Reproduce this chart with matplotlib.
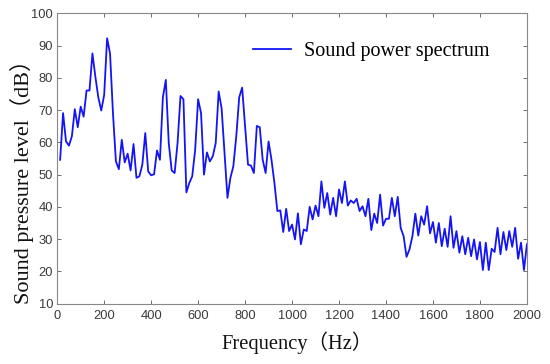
import matplotlib
matplotlib.use("Agg")
import matplotlib.pyplot as plt

freq_hz = [
    12.5, 25, 37.5, 50, 62.5, 75, 87.5, 100, 112.5, 125, 137.5, 150, 162.5, 175, 187.5, 200,
    212.5, 225, 237.5, 250, 262.5, 275, 287.5, 300, 312.5, 325, 337.5, 350, 362.5, 375, 387.5, 400,
    412.5, 425, 437.5, 450, 462.5, 475, 487.5, 500, 512.5, 525, 537.5, 550, 562.5, 575, 587.5, 600,
    612.5, 625, 637.5, 650, 662.5, 675, 687.5, 700, 712.5, 725, 737.5, 750, 762.5, 775, 787.5, 800,
    812.5, 825, 837.5, 850, 862.5, 875, 887.5, 900, 912.5, 925, 937.5, 950, 962.5, 975, 987.5, 1000,
    1012.5, 1025, 1037.5, 1050, 1062.5, 1075, 1087.5, 1100, 1112.5, 1125, 1137.5, 1150, 1162.5, 1175, 1187.5, 1200,
    1212.5, 1225, 1237.5, 1250, 1262.5, 1275, 1287.5, 1300, 1312.5, 1325, 1337.5, 1350, 1362.5, 1375, 1387.5, 1400,
    1412.5, 1425, 1437.5, 1450, 1462.5, 1475, 1487.5, 1500, 1512.5, 1525, 1537.5, 1550, 1562.5, 1575, 1587.5, 1600,
    1612.5, 1625, 1637.5, 1650, 1662.5, 1675, 1687.5, 1700, 1712.5, 1725, 1737.5, 1750, 1762.5, 1775, 1787.5, 1800,
    1812.5, 1825, 1837.5, 1850, 1862.5, 1875, 1887.5, 1900, 1912.5, 1925, 1937.5, 1950, 1962.5, 1975, 1987.5, 2000,
]

spl_db = [
    54.6, 69.1, 60.3, 59.0, 61.9, 70.3, 64.7, 71.1, 68.0, 76.1, 76.1, 87.6, 80.4, 74.0, 69.9, 74.7,
    92.3, 87.6, 69.0, 54.1, 51.7, 60.8, 53.8, 56.5, 51.3, 59.5, 49.0, 49.5, 53.1, 62.9, 51.0, 49.8,
    50.1, 57.5, 54.6, 74.0, 79.4, 59.8, 51.3, 50.5, 59.8, 74.4, 73.4, 44.5, 47.4, 49.5, 57.7, 73.4,
    69.1, 50.0, 56.9, 54.1, 55.7, 59.8, 75.8, 70.6, 56.7, 42.8, 49.0, 52.6, 61.9, 74.0, 77.0, 64.9,
    53.1, 52.8, 50.5, 65.1, 64.7, 54.6, 50.5, 60.3, 54.6, 47.4, 38.7, 38.9, 32.2, 39.4, 32.5, 34.5,
    29.9, 38.0, 28.4, 33.0, 32.5, 40.0, 36.1, 40.4, 37.1, 47.9, 39.7, 44.3, 37.6, 42.8, 37.1, 45.4,
    41.2, 47.9, 40.4, 42.0, 41.2, 42.5, 38.7, 40.2, 37.1, 42.5, 32.8, 37.9, 35.0, 43.8, 34.2, 36.3,
    36.3, 42.8, 37.1, 43.1, 33.5, 30.9, 24.5, 26.8, 30.9, 37.9, 31.1, 37.1, 34.5, 40.2, 31.8, 35.3,
    28.9, 35.0, 27.8, 33.2, 27.6, 37.1, 27.3, 32.5, 25.8, 30.9, 25.3, 30.4, 24.7, 29.9, 23.7, 29.1,
    20.4, 28.9, 20.4, 27.0, 26.0, 33.5, 25.3, 32.2, 26.6, 32.5, 27.6, 33.5, 23.9, 28.9, 20.4, 28.4,
]

x_ticks = [0, 200, 400, 600, 800, 1000, 1200, 1400, 1600, 1800, 2000]
y_ticks = [10, 20, 30, 40, 50, 60, 70, 80, 90, 100]

serif = ["Liberation Serif", "Noto Sans CJK SC"]

fig = plt.figure(figsize=(5.5, 3.64), dpi=100)
ax = fig.add_axes([0.104, 0.166, 0.854, 0.797])

ax.plot(freq_hz, spl_db, color="#1414f5", linewidth=1.3, label="Sound power spectrum")

ax.set_xlim(0, 2000)
ax.set_ylim(10, 100)
ax.set_xticks(x_ticks)
ax.set_yticks(y_ticks)
ax.tick_params(direction="in", top=True, right=True, length=3, width=0.6,
               colors="#555555", labelcolor="#3a3a3a", labelsize=9.3)
ax.tick_params(axis="x", pad=4.5)
ax.tick_params(axis="y", pad=3)
for lab in ax.get_xticklabels() + ax.get_yticklabels():
    lab.set_family(["Liberation Sans", "DejaVu Sans"])
for s in ax.spines.values():
    s.set_color("#888888")
    s.set_linewidth(0.8)

ax.set_xlabel("Frequency（Hz）", family=serif, fontsize=14.8, color="#111111")
ax.xaxis.set_label_coords(0.51, -0.095)
ax.set_ylabel("Sound pressure level（dB）", family=serif, fontsize=16, color="#111111")
ax.yaxis.set_label_coords(-0.05, 0.44)

leg = ax.legend(loc="upper right", frameon=False, prop={"family": serif, "size": 14.5},
                handlelength=1.9, handletextpad=0.6, bbox_to_anchor=(0.958, 0.965))

fig.savefig("out.png", dpi=100)
